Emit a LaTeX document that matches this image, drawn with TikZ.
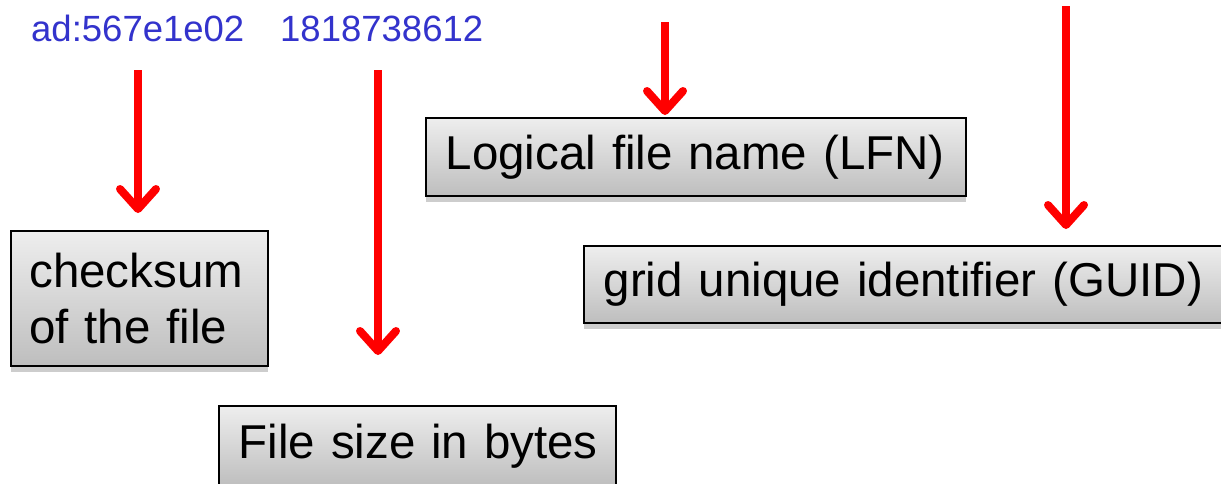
\documentclass[tikz,border=0pt]{standalone}
\usepackage{fontspec}
\setmainfont{Liberation Sans}
\usetikzlibrary{arrows.meta,shadows}
\definecolor{lbl}{RGB}{51,51,204}
\definecolor{boxtop}{RGB}{238,238,238}
\definecolor{boxbot}{RGB}{190,190,190}
\definecolor{shad}{RGB}{205,205,205}
\tikzset{
  infobox/.style={draw=black, line width=1.5pt, top color=boxtop, bottom color=boxbot,
    anchor=north west, inner sep=0pt, align=left, font=\fontsize{47.5}{56}\selectfont,
    drop shadow={shadow xshift=0pt, shadow yshift=-6pt, fill=shad, opacity=1}},
  toplabel/.style={text=lbl, font=\fontsize{36.5}{40}\selectfont, anchor=base west, inner sep=0pt},
  redarrow/.style={draw=red, line width=8pt,
    -{Straight Barb[length=20pt,width=36pt,line cap=round,line join=round]}},
}
\begin{document}
\begin{tikzpicture}[x=1pt,y=-1pt]
\useasboundingbox (0,0) rectangle (1221,483);
% labels
\node[toplabel] (lab1) at (31,41) {ad:567e1e02};
\node[toplabel] (lab2) at (280,41) {1818738612};
% boxes
\node[infobox, minimum width=257pt, minimum height=135pt, text width=240pt] (cks) at (10,230) {\hspace*{10pt}checksum\\\hspace*{10pt}of the file};
\node[infobox, minimum width=397pt, minimum height=80pt, text width=387pt] (fsz) at (218,405) {\hspace*{15pt}File size in bytes};
\node[infobox, minimum width=540pt, minimum height=78pt, text width=530pt] (lfn) at (425,117) {\hspace*{15pt}Logical file name (LFN)};
\node[infobox, minimum width=645pt, minimum height=77pt, text width=635pt] (guid) at (583,245) {\hspace*{15pt}grid unique identifier (GUID)};
% arrow start points
\coordinate (s1) at (138,70);
\coordinate (s2) at (378,70);
\coordinate (s3) at (665,22);
\coordinate (s4) at (1066,6);
\draw[redarrow, shorten >=17pt] (s1) -- (s1 |- cks.north);
\draw[redarrow, shorten >=50pt] (s2) -- (s2 |- fsz.north);
\draw[redarrow, shorten >=2pt] (s3) -- (s3 |- lfn.north);
\draw[redarrow, shorten >=16pt] (s4) -- (s4 |- guid.north);
\end{tikzpicture}
\end{document}
